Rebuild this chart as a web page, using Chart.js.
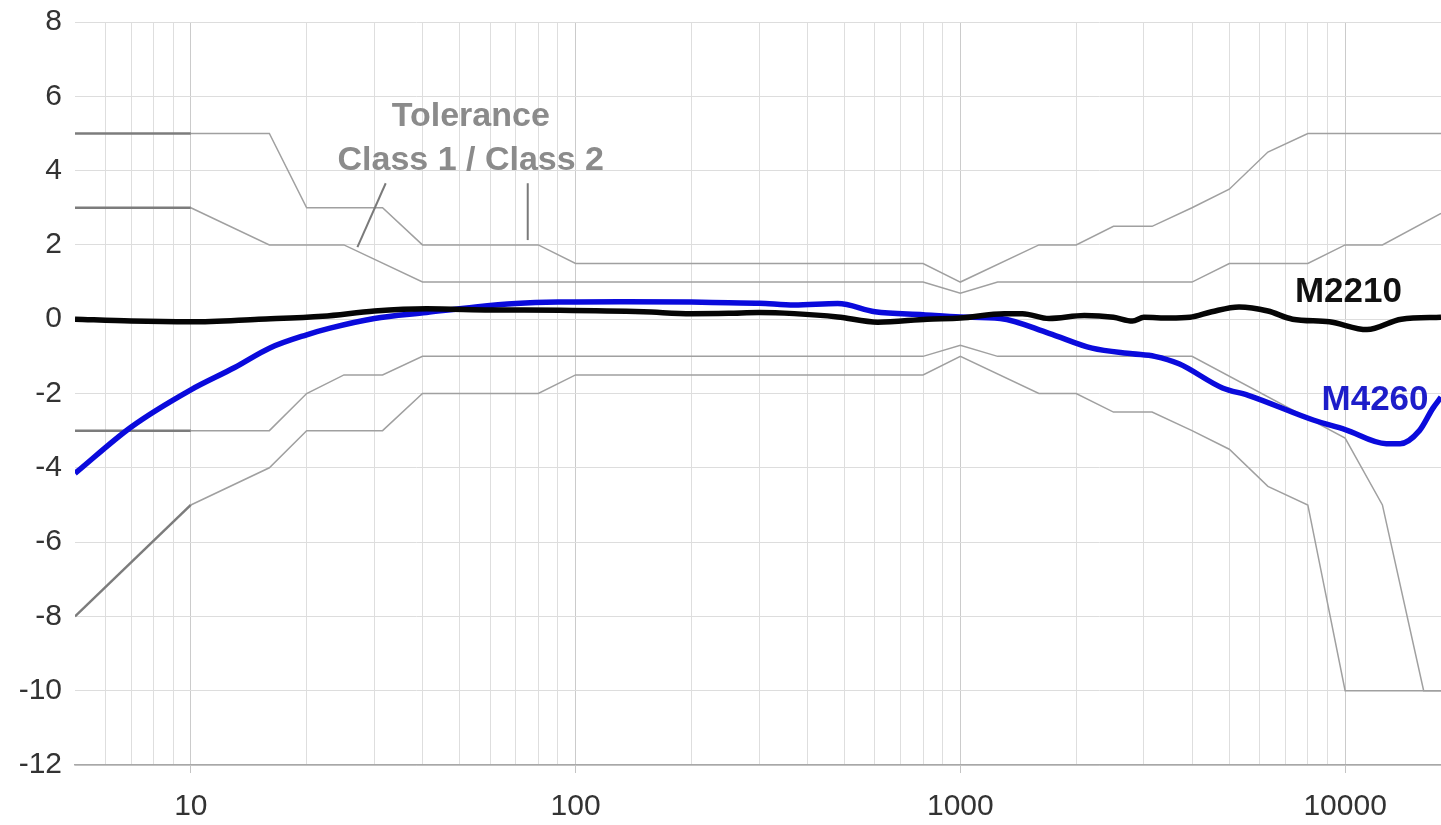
<!DOCTYPE html>
<html lang="en">
  <head>
    <meta charset="utf-8">
    <title>Frequency response M2210 / M4260</title>
    <style>
      html, body { margin: 0; padding: 0; background: #ffffff; }
      #wrap { width: 1441px; height: 825px; position: relative; }
    </style>
  </head>

  <body>
    <div id="wrap"><canvas id="MyCanvas"></canvas></div>

    <script src="https://cdn.jsdelivr.net/npm/chart.js@4.4.1/dist/chart.umd.min.js"></script>

    <script>
      // ---- tolerance limits (Hz / dB) ----
      const c2UpperHz = [5, 10, 16, 20, 31.5, 40, 80, 100, 800, 1000, 1600, 2000, 2500, 3150, 4000, 5000, 6300, 8000, 17750];
      const c2UpperDb = [5, 5, 5, 3, 3, 2, 2, 1.5, 1.5, 1, 2, 2, 2.5, 2.5, 3, 3.5, 4.5, 5, 5];
      const c2LowerHz = [5, 10, 16, 20, 31.5, 40, 80, 100, 800, 1000, 1600, 2000, 2500, 3150, 4000, 5000, 6300, 8000, 10000, 17750];
      const c2LowerDb = [-8, -5, -4, -3, -3, -2, -2, -1.5, -1.5, -1, -2, -2, -2.5, -2.5, -3, -3.5, -4.5, -5, -10, -10];
      const c1UpperHz = [5, 10, 16, 25, 40, 800, 1000, 1250, 4000, 5000, 8000, 10000, 12500, 17750];
      const c1UpperDb = [3, 3, 2, 2, 1, 1, 0.7, 1, 1, 1.5, 1.5, 2, 2, 2.85];
      const c1LowerHz = [5, 10, 16, 20, 25, 31.5, 40, 800, 1000, 1250, 4000, 10000, 12500, 16000, 17750];
      const c1LowerDb = [-3, -3, -3, -2, -1.5, -1.5, -1, -1, -0.7, -1, -1, -3.2, -5, -10, -10];

      // ---- measured responses ----
      const m4260Hz = [5, 7, 10, 13, 16, 20, 23, 30, 41, 55, 70, 90, 130, 200, 250, 300, 370, 480, 600, 800, 1000, 1270, 1700, 2200, 2800, 3200, 3700, 4800, 5600, 8300, 10000, 12800, 13900, 15600, 16900, 17750];
      const m4260Db = [-4.15, -2.9, -1.9, -1.3, -0.78, -0.42, -0.24, 0.02, 0.18, 0.33, 0.42, 0.46, 0.47, 0.46, 0.44, 0.43, 0.38, 0.42, 0.2, 0.12, 0.06, 0.02, -0.38, -0.78, -0.93, -1.0, -1.2, -1.85, -2.05, -2.72, -2.97, -3.35, -3.35, -3.0, -2.4, -2.1];
      const m2210Hz = [5, 7, 10, 15, 22, 30, 41, 60, 91, 150, 200, 250, 300, 370, 480, 610, 820, 1000, 1300, 1450, 1700, 2100, 2500, 2800, 3000, 3500, 3950, 4500, 5300, 6300, 7300, 9100, 11400, 14000, 17750];
      const m2210Db = [0, -0.05, -0.07, 0, 0.08, 0.22, 0.28, 0.25, 0.24, 0.2, 0.15, 0.16, 0.18, 0.15, 0.06, -0.08, 0.0, 0.03, 0.15, 0.15, 0.02, 0.1, 0.05, -0.05, 0.05, 0.03, 0.05, 0.2, 0.33, 0.22, 0.0, -0.07, -0.28, 0.0, 0.05];

      // ---- axes ----
      const xMin = 5, xMax = 17750;
      const xTickLabels = [10, 100, 1000, 10000];
      const yMin = -12, yMax = 8, yStep = 2;

      const FONT = "'Liberation Sans', Arial, sans-serif";

      function pts(xs, ys) {
        return xs.map((x, i) => ({ x: x, y: ys[i] }));
      }

      // below 10 Hz the limit lines are drawn darker
      function tolLine(xs, ys) {
        return {
          data: pts(xs, ys),
          borderColor: '#a0a0a0',
          borderWidth: 1.5,
          pointRadius: 0,
          tension: 0,
          order: 3,
          segment: {
            borderColor: c => c.p1.parsed.x <= 10 ? '#7c7c7c' : undefined,
            borderWidth: c => c.p1.parsed.x <= 10 ? 2.5 : undefined
          }
        };
      }

      // texts and pointer lines, anchored in data units
      const notes = [
        { text: 'Tolerance', x: 53.4, y: 5.2, color: '#8b8b8b', size: 34 },
        { text: 'Class 1 / Class 2', x: 53.4, y: 4.02, color: '#8b8b8b', size: 34 },
        { text: 'M2210', x: 10200, y: 0.46, color: '#111111', size: 35 },
        { text: 'M4260', x: 11960, y: -2.45, color: '#1d1dc9', size: 35 }
      ];
      const pointers = [
        [32.1, 3.66, 27.1, 1.94],
        [75.1, 3.66, 75.1, 2.13]
      ];

      const notesPlugin = {
        id: 'notes',
        afterDatasetsDraw(chart) {
          const ctx = chart.ctx, xs = chart.scales.x, ys = chart.scales.y;
          ctx.save();
          ctx.strokeStyle = '#7a7a7a';
          ctx.lineWidth = 2;
          pointers.forEach(p => {
            ctx.beginPath();
            ctx.moveTo(xs.getPixelForValue(p[0]), ys.getPixelForValue(p[1]));
            ctx.lineTo(xs.getPixelForValue(p[2]), ys.getPixelForValue(p[3]));
            ctx.stroke();
          });
          ctx.textAlign = 'center';
          ctx.textBaseline = 'alphabetic';
          notes.forEach(n => {
            ctx.font = 'bold ' + n.size + 'px ' + FONT;
            ctx.fillStyle = n.color;
            ctx.fillText(n.text, xs.getPixelForValue(n.x), ys.getPixelForValue(n.y));
          });
          ctx.restore();
        }
      };

      const ctx = document.getElementById('MyCanvas');
      const MyChart = new Chart(ctx, {
        type: 'line',
        data: {
          datasets: [
            {
              label: 'M2210',
              data: pts(m2210Hz, m2210Db),
              borderColor: '#050505',
              borderWidth: 5.5,
              pointRadius: 0,
              cubicInterpolationMode: 'monotone',
              order: 0
            },
            {
              label: 'M4260',
              data: pts(m4260Hz, m4260Db),
              borderColor: '#0a0adc',
              borderWidth: 5.5,
              pointRadius: 0,
              cubicInterpolationMode: 'monotone',
              order: 1
            },
            tolLine(c2UpperHz, c2UpperDb),
            tolLine(c2LowerHz, c2LowerDb),
            tolLine(c1UpperHz, c1UpperDb),
            tolLine(c1LowerHz, c1LowerDb)
          ]
        },
        options: {
          responsive: true,
          maintainAspectRatio: false,
          animation: false,
          devicePixelRatio: 1,
          layout: { padding: { top: 22, right: 0, bottom: 0, left: 0 } },
          plugins: {
            legend: { display: false },
            tooltip: { enabled: false }
          },
          scales: {
            x: {
              type: 'logarithmic',
              min: xMin,
              max: xMax,
              afterBuildTicks: scale => {
                const t = [];
                for (let d = 1; d <= 10000; d *= 10) {
                  for (let m = 1; m <= 9; m++) {
                    const v = m * d;
                    if (v > xMin && v < xMax) t.push({ value: v });
                  }
                }
                scale.ticks = t;
              },
              afterFit: scale => {
                scale.height = 60;
                scale.paddingLeft = 0;
                scale.paddingRight = 0;
              },
              grid: {
                color: c => (c.tick && xTickLabels.includes(c.tick.value)) ? '#cbcbcb' : '#dedede',
                lineWidth: 1,
                drawTicks: true,
                tickLength: 8,
                tickColor: c => (c.tick && xTickLabels.includes(c.tick.value)) ? '#c4c4c4' : 'rgba(0,0,0,0)'
              },
              border: { display: true, color: '#a8a8a8', width: 1.5 },
              ticks: {
                autoSkip: false,
                maxRotation: 0,
                padding: 16,
                color: '#333333',
                font: { family: FONT, size: 30 },
                callback: v => xTickLabels.includes(v) ? String(v) : ''
              }
            },
            y: {
              min: yMin,
              max: yMax,
              afterFit: scale => {
                scale.width = 75;
                scale.paddingTop = 0;
                scale.paddingBottom = 0;
              },
              grid: {
                color: '#dddddd',
                lineWidth: 1,
                drawTicks: false
              },
              border: { display: false },
              ticks: {
                stepSize: yStep,
                padding: 13,
                color: '#333333',
                font: { family: FONT, size: 30 }
              }
            }
          }
        },
        plugins: [notesPlugin]
      });
    </script>
  </body>
</html>
